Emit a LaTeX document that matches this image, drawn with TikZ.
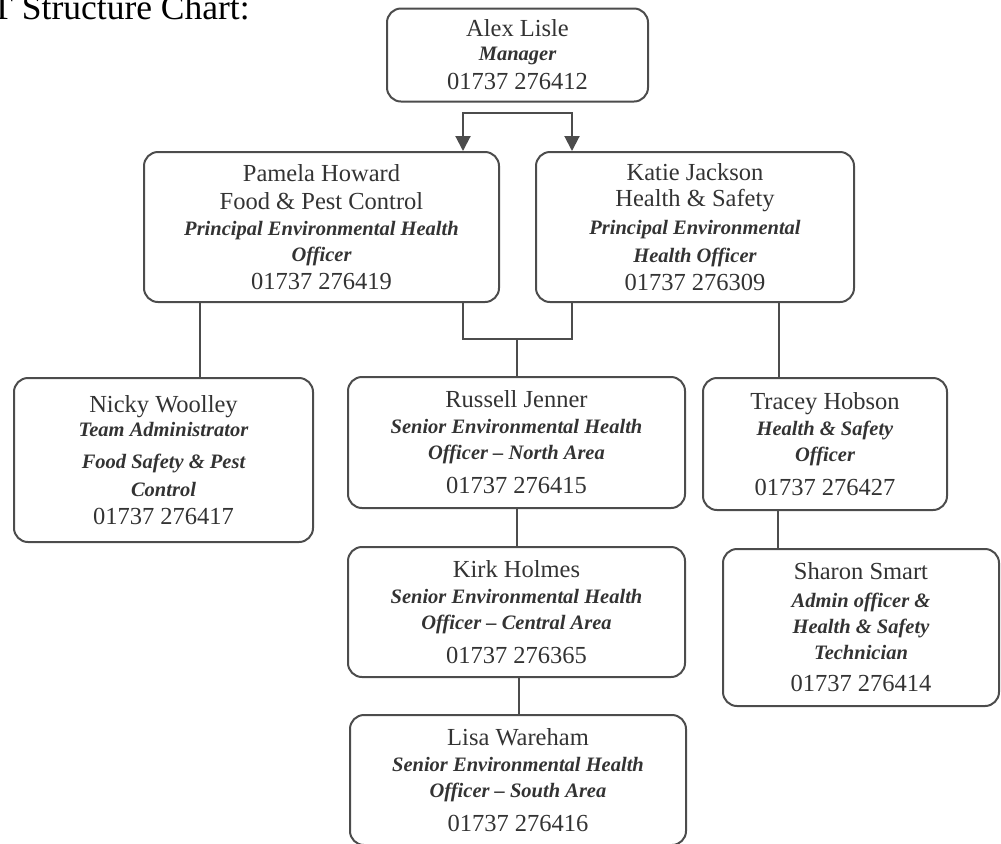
\documentclass[tikz,border=0pt]{standalone}
\usepackage{fontspec}
\setmainfont{Liberation Serif}
\usetikzlibrary{calc,arrows.meta}
\newcommand{\role}[1]{{\fontsize{10.25}{12}\selectfont\bfseries\itshape #1}}
\tikzset{
  staff/.style={draw=black!70, line width=1pt, rounded corners=7pt, align=center,
    inner sep=0pt, text=black!80, font=\fontsize{12.25}{13}\selectfont},
  link/.style={draw=black!70, line width=1pt},
  tip/.style={-{Triangle[length=7.5pt,width=7.5pt]}}
}

\begin{document}
\begin{tikzpicture}[x=0.5pt, y=-0.5pt]
			%%%%% START %%%%%
			\useasboundingbox (0,0) rectangle (1001,843);
			\clip (0,0) rectangle (1001,843);
			
			\node[anchor=base west, inner sep=0pt, font=\fontsize{17.75}{20}\selectfont] (title) at (-9,19) {T Structure Chart:};
			
			\node[staff, minimum width=130.5pt, minimum height=46.5pt] (alex) at (517.5,55)
				{Alex Lisle\\[-1pt] \role{Manager}\\[1.5pt] 01737 276412};
			
			\node[staff, minimum width=177.5pt, minimum height=75pt] (pamela) at (321.5,227)
				{Pamela Howard\\[1pt] Food \& Pest Control\\ \role{Principal Environmental Health}\\ \role{Officer}\\[1pt] 01737 276419};
			\node[staff, minimum width=159pt, minimum height=75pt] (katie) at (695,227)
				{Katie Jackson\\ Health \& Safety\\[1pt] \role{Principal Environmental}\\[1pt] \role{Health Officer}\\[1pt] 01737 276309};
			
			\node[staff, minimum width=149.5pt, minimum height=82pt] (nicky) at (163.5,460)
				{Nicky Woolley\\[-1pt] \role{Team Administrator}\\[3pt] \role{Food Safety \& Pest}\\[1pt] \role{Control}\\[1pt] 01737 276417};
			\node[staff, minimum width=168.5pt, minimum height=65.5pt] (russell) at (516.5,442.5)
				{Russell Jenner\\ \role{Senior Environmental Health}\\ \role{Officer -- North Area}\\[4pt] 01737 276415};
			\node[staff, minimum width=168.5pt, minimum height=65pt] (kirk) at (516.5,612)
				{Kirk Holmes\\ \role{Senior Environmental Health}\\ \role{Officer -- Central Area}\\[4pt] 01737 276365};
			\node[staff, minimum width=168pt, minimum height=65pt] (lisa) at (518,780)
				{Lisa Wareham\\ \role{Senior Environmental Health}\\ \role{Officer -- South Area}\\[4pt] 01737 276416};
			\node[staff, minimum width=122pt, minimum height=66pt] (tracey) at (825,444)
				{Tracey Hobson\\ \role{Health \& Safety}\\ \role{Officer}\\[4pt] 01737 276427};
			\node[staff, minimum width=138pt, minimum height=78.5pt] (sharon) at (861,627.5)
				{Sharon Smart\\[1pt] \role{Admin officer \&}\\ \role{Health \& Safety}\\ \role{Technician}\\[3pt] 01737 276414};
			
			% arrows from the manager
			\coordinate (topbar) at (517.5,113);
			\draw[link, tip] (topbar) -| ($(pamela.north east)+(-37,0)$);
			\draw[link, tip] (topbar) -| ($(katie.north west)+(37,0)$);
			
			% joint line under the two principals
			\coordinate (midbar) at (517,339);
			\draw[link] ($(pamela.south east)+(-37,0)$) |- (midbar) -| ($(katie.south west)+(37,0)$);
			\draw[link] (midbar) -- (midbar |- russell.north);
			
			\draw[link] ($(pamela.south west)+(57,0)$) coordinate (pdrop) -- (pdrop |- nicky.north);
			\draw[link] ($(katie.south east)+(-76,0)$) coordinate (kdrop) -- (kdrop |- tracey.north);
			\draw[link] ($(tracey.south west)+(76,0)$) coordinate (tdrop) -- (tdrop |- sharon.north);
			
			\draw[link] (russell.south) -- (kirk.north);
			\draw[link] ($(kirk.south)+(2,0)$) coordinate (kdown) -- (kdown |- lisa.north);
			%%%%% END %%%%%
\end{tikzpicture}
\end{document}
